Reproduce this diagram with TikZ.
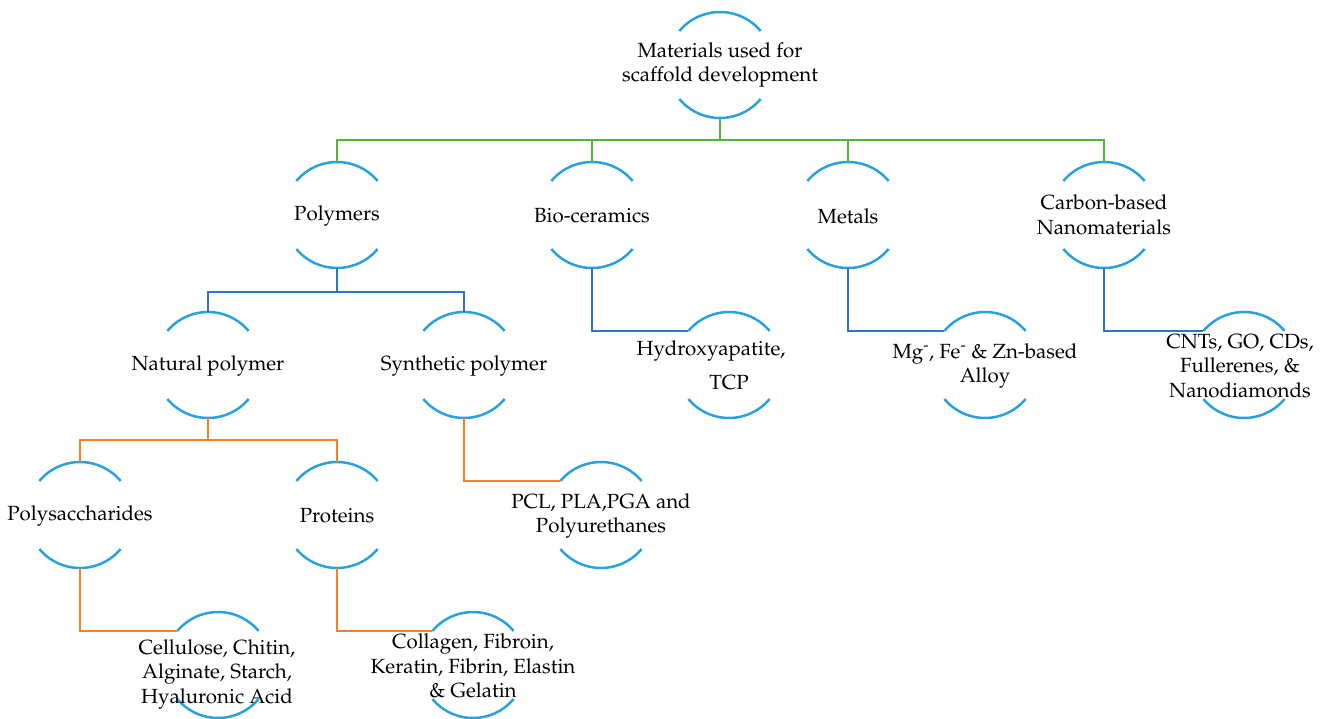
\documentclass[tikz,border=0pt]{standalone}
\usepackage[T1]{fontenc}
\usepackage{mathpazo}
\definecolor{arcblue}{RGB}{41,161,220}
\definecolor{lineblue}{RGB}{42,116,206}
\definecolor{lgreen}{RGB}{78,180,58}
\definecolor{lorange}{RGB}{250,128,40}
\tikzset{
  bub/.style={circle,minimum size=106pt,inner sep=0pt,outer sep=0pt,draw=none},
  arcc/.style={arcblue,line width=2.5pt},
  lbl/.style={align=center,inner sep=0pt,font=\fontsize{20.5}{24.5}\selectfont},
  gcon/.style={lgreen,line width=2.5pt},
  bcon/.style={lineblue,line width=2.5pt},
  ocon/.style={lorange,line width=2.5pt},
}
\newcommand\mybubble[2]{%
  \node[bub] (#1) at (#2) {};
  \draw[arcc] (#1.40) arc[start angle=40,end angle=140,radius=53];
  \draw[arcc] (#1.220) arc[start angle=220,end angle=320,radius=53];}
\begin{document}
\begin{tikzpicture}[x=1pt,y=1pt]
\useasboundingbox (0,0) rectangle (1326,-719);
% bubbles
\mybubble{root}{720,-65}
\mybubble{poly}{337,-215}
\mybubble{bio}{592,-215}
\mybubble{met}{848,-215}
\mybubble{carb}{1104,-215}
\mybubble{nat}{208,-365}
\mybubble{syn}{464,-365}
\mybubble{hyd}{729,-365}
\mybubble{alloy}{985,-365}
\mybubble{cnt}{1244,-365}
\mybubble{sacc}{80,-515}
\mybubble{prot}{337,-515}
\mybubble{pcl}{601,-515}
\mybubble{cell}{218,-665}
\mybubble{coll}{473,-665}
% texts
\node[lbl] (root-t) at (720,-65) {Materials used for\\scaffold development};
\node[lbl] (poly-t) at (337,-216) {Polymers};
\node[lbl] (bio-t) at (592,-216) {Bio-ceramics};
\node[lbl] (met-t) at (848,-216) {Metals};
\node[lbl] (carb-t) at (1104,-215) {Carbon-based\\Nanomaterials};
\node[lbl] (nat-t) at (208,-366) {Natural polymer};
\node[lbl] (syn-t) at (464,-366) {Synthetic polymer};
\node[lbl,font=\fontsize{20.5}{34}\selectfont] (hyd-t) at (729,-365) {\hspace*{-36pt}Hydroxyapatite,\\TCP};
\node[lbl] (alloy-t) at (985,-366) {Mg\textsuperscript{-}, Fe\textsuperscript{-} \& Zn-based\\Alloy};
\node[lbl] (cnt-t) at (1240,-366) {CNTs, GO, CDs,\\Fullerenes, \&\\Nanodiamonds};
\node[lbl] (sacc-t) at (80,-516) {Polysaccharides};
\node[lbl] (prot-t) at (337,-516) {Proteins};
\node[lbl] (pcl-t) at (601,-516) {PCL, PLA,PGA and\\Polyurethanes};
\node[lbl] (cell-t) at (217,-674) {Cellulose, Chitin,\\Alginate, Starch,\\Hyaluronic Acid};
\node[lbl] (coll-t) at (473,-666) {Collagen, Fibroin,\\Keratin, Fibrin, Elastin\\\& Gelatin};
% connectors
\foreach \c in {poly,bio,met,carb}
  \draw[gcon] (root.south) -- ++(0,-22) -| (\c.north);
\foreach \c in {nat,syn}
  \draw[bcon] (poly.south) -- ++(0,-24) -| (\c.north);
\foreach \c in {sacc,prot}
  \draw[ocon] (nat.south) -- ++(0,-22) -| (\c.north);
\draw[bcon] (bio.south) |- (hyd.140);
\draw[bcon] (met.south) |- (alloy.140);
\draw[bcon] (carb.south) |- (cnt.140);
\draw[ocon] (syn.south) |- (pcl.140);
\draw[ocon] (sacc.south) |- (cell.140);
\draw[ocon] (prot.south) |- (coll.140);
\end{tikzpicture}
\end{document}
